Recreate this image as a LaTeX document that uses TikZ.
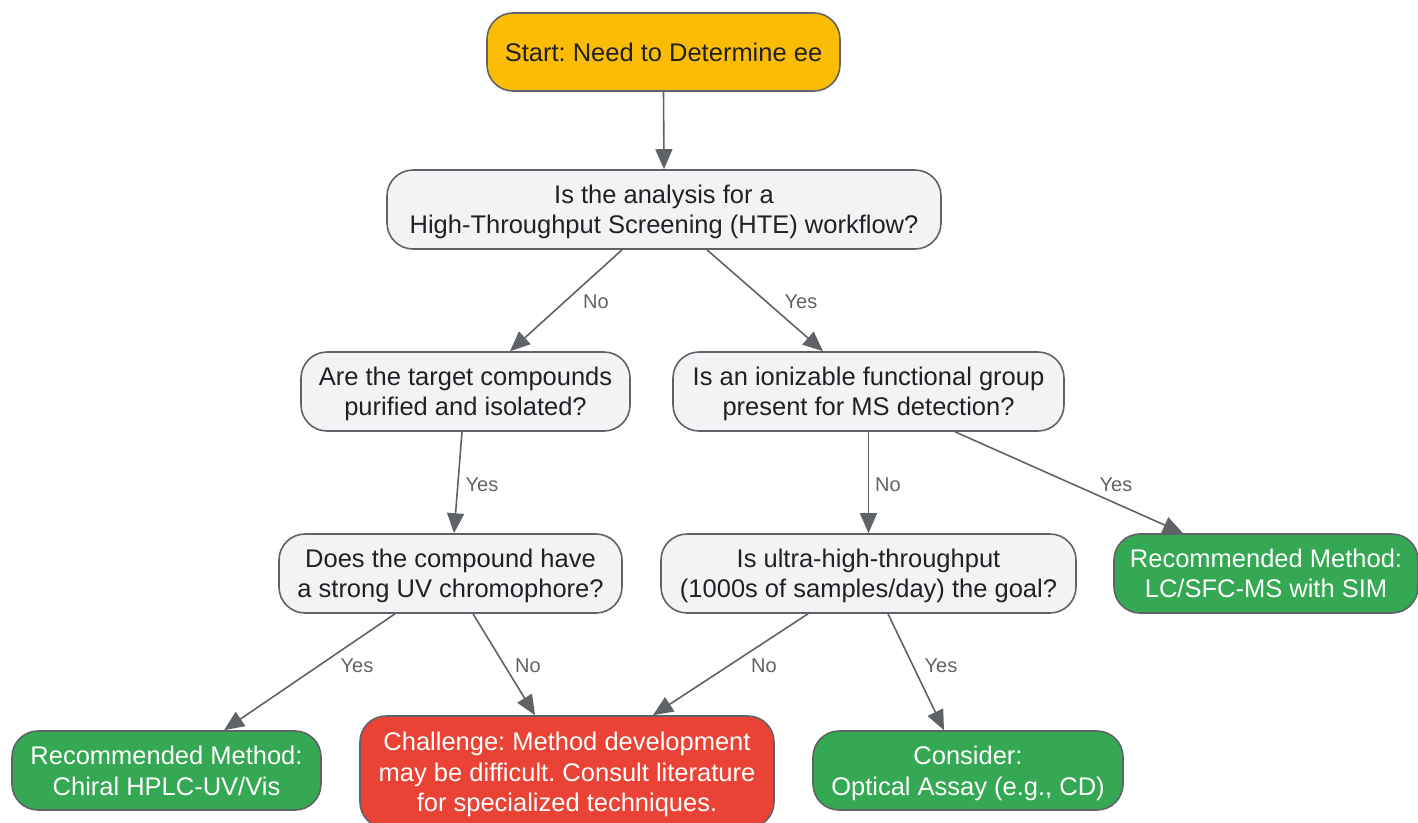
\documentclass[tikz,border=0pt]{standalone}
\usepackage{fontspec}
\setmainfont{Liberation Sans}
\frenchspacing
\usetikzlibrary{arrows.meta,positioning}
\definecolor{cyellow}{HTML}{FBBC05}
\definecolor{cgreen}{HTML}{34A853}
\definecolor{cred}{HTML}{EA4335}
\definecolor{cgrayfill}{HTML}{F1F3F4}
\definecolor{cborder}{HTML}{5F6368}
\definecolor{ctext}{HTML}{202124}
\begin{document}
\begin{tikzpicture}[x=1pt,y=-1pt,
  box/.style={draw=cborder,line width=1.6pt,rounded corners=26pt,align=center,
    inner sep=0pt,text depth=0pt,font=\fontsize{25.5}{30.5}\selectfont},
  qbox/.style={box,fill=cgrayfill,text=ctext},
  gbox/.style={box,fill=cgreen,text=white},
  rbox/.style={box,fill=cred,text=white},
  ybox/.style={box,fill=cyellow,text=ctext},
  arr/.style={draw=cborder,line width=1.6pt,-{Triangle[length=20pt,width=17pt]}},
  lbl/.style={text=cborder,font=\fontsize{20}{24}\selectfont,inner sep=0pt}]
\useasboundingbox (0,0) rectangle (1418,822);
\node[ybox,minimum width=353pt,minimum height=78pt] (start) at (663.5,52) {Start: Need to Determine ee};
\node[qbox,minimum width=554pt,minimum height=79pt] (q1) at (664,209.5) {Is the analysis for a\\High-Throughput Screening (HTE) workflow?};
\node[qbox,minimum width=329pt,minimum height=79pt] (q2) at (465.5,391.5) {Are the target compounds\\purified and isolated?};
\node[qbox,minimum width=391pt,minimum height=79pt] (q3) at (868.5,391.5) {Is an ionizable functional group\\present for MS detection?};
\node[qbox,minimum width=343pt,minimum height=79pt] (q4) at (450.5,573.5) {Does the compound have\\a strong UV chromophore?};
\node[qbox,minimum width=415pt,minimum height=79pt] (q5) at (868.5,573.5) {Is ultra-high-throughput\\(1000s of samples/day) the goal?};
\node[gbox,minimum width=304pt,minimum height=79pt] (r1) at (1266,573.5) {Recommended Method:\\LC/SFC-MS with SIM};
\node[gbox,minimum width=309pt,minimum height=79pt] (r2) at (166.5,770.5) {Recommended Method:\\Chiral HPLC-UV/Vis};
\node[rbox,minimum width=414pt,minimum height=112pt] (ch) at (567,772) {Challenge: Method development\\may be difficult. Consult literature\\for specialized techniques.};
\node[gbox,minimum width=310pt,minimum height=79pt] (co) at (968,770.5) {Consider:\\Optical Assay (e.g., CD)};

\draw[arr] (start.south) -- (q1.north);
\draw[arr] ([xshift=-42pt]q1.south) -- ([xshift=44.5pt]q2.north) node[lbl] at (596,302) {No};
\draw[arr] ([xshift=43pt]q1.south) -- ([xshift=-45.5pt]q3.north) node[lbl] at (801,302) {Yes};
\draw[arr] ([xshift=-3.5pt]q2.south) -- ([xshift=3.5pt]q4.north) node[lbl] at (482,485) {Yes};
\draw[arr] (q3.south) -- (q5.north) node[lbl] at (888,485) {No};
\draw[arr] ([xshift=86.5pt]q3.south) -- ([xshift=-83pt]r1.north) node[lbl] at (1116,485) {Yes};
\draw[arr] ([xshift=-55.5pt]q4.south) -- ([xshift=57.5pt]r2.north) node[lbl] at (357,666) {Yes};
\draw[arr] ([xshift=22.5pt]q4.south) -- ([xshift=-32pt]ch.north) node[lbl] at (528,666) {No};
\draw[arr] ([xshift=-60.5pt]q5.south) -- ([xshift=86pt]ch.north) node[lbl] at (764,666) {No};
\draw[arr] ([xshift=19.5pt]q5.south) -- ([xshift=-24pt]co.north) node[lbl] at (941,666) {Yes};
\end{tikzpicture}
\end{document}
